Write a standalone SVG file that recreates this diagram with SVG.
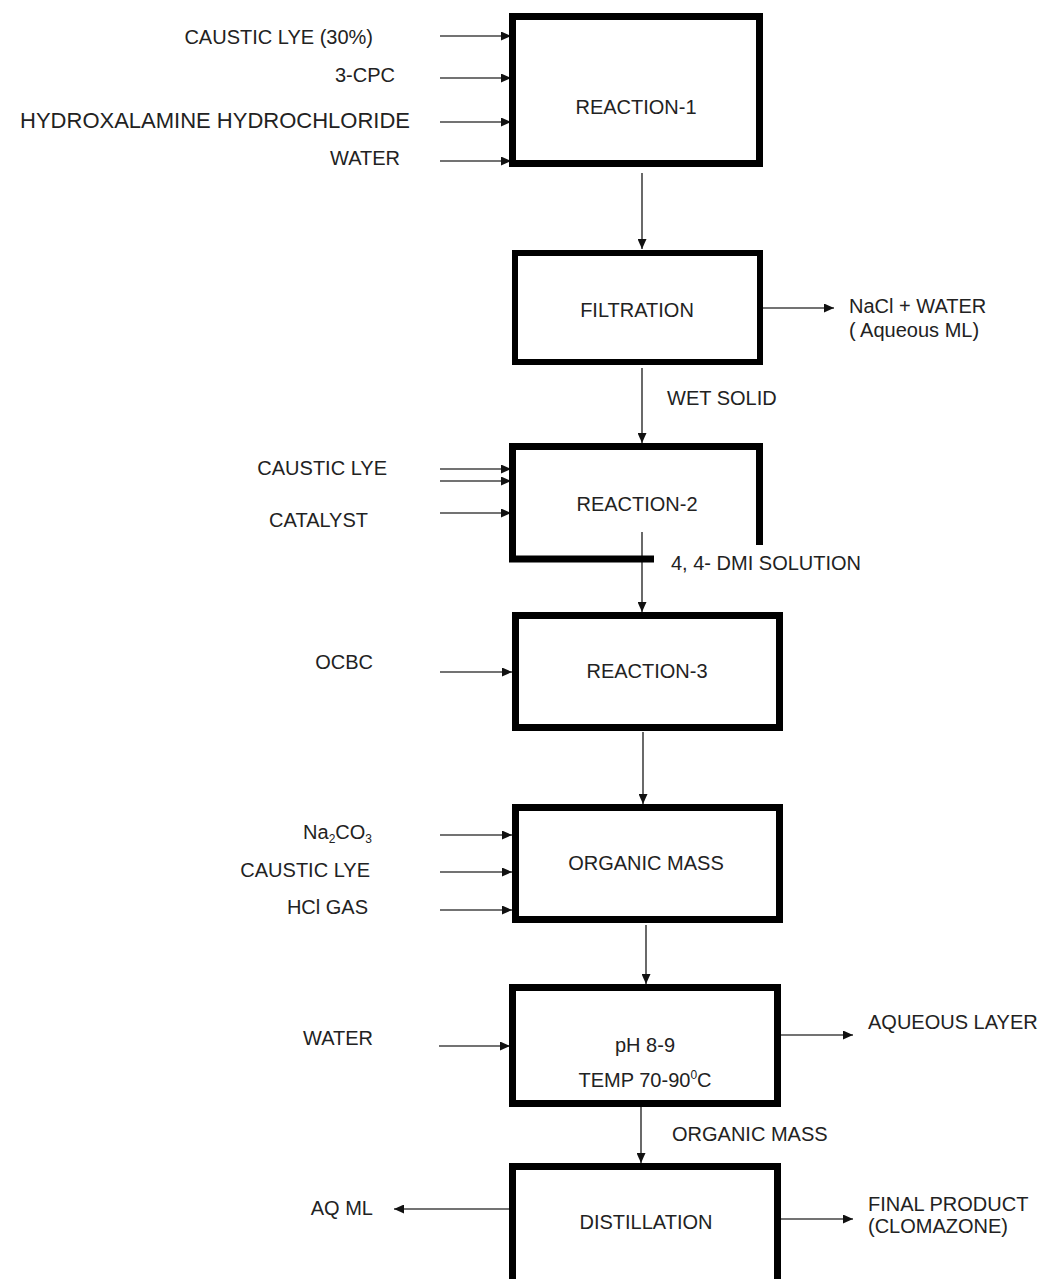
<svg xmlns="http://www.w3.org/2000/svg" width="1046" height="1279" viewBox="0 0 1046 1279">
<style>
text{font-family:"Liberation Sans",Arial,sans-serif;font-size:20px;fill:#222}
.box{fill:none;stroke:#000;stroke-width:7;stroke-linejoin:miter}
.c{stroke:#444;stroke-width:1.6;fill:none;marker-end:url(#ah)}
.m{text-anchor:middle}
.e{text-anchor:end}
</style>
<defs>
<marker id="ah" markerUnits="userSpaceOnUse" markerWidth="11" markerHeight="9" refX="10" refY="4.5" orient="auto">
<path d="M0,0 L10,4.5 L0,9 z" fill="#111"/>
</marker>
</defs>
<rect width="1046" height="1279" fill="#fff"/>

<g id="connectors">
<line class="c" x1="440" y1="36" x2="511" y2="36"/>
<line class="c" x1="440" y1="78" x2="511" y2="78"/>
<line class="c" x1="440" y1="122" x2="511" y2="122"/>
<line class="c" x1="440" y1="161" x2="511" y2="161"/>
<line class="c" x1="642" y1="173" x2="642" y2="249"/>
<line class="c" x1="763" y1="308" x2="834" y2="308"/>
<line class="c" x1="642" y1="368" x2="642" y2="443"/>
<line class="c" x1="440" y1="469" x2="511" y2="469"/>
<line class="c" x1="440" y1="481" x2="511" y2="481"/>
<line class="c" x1="440" y1="513" x2="511" y2="513"/>
<line class="c" x1="642" y1="532" x2="642" y2="612"/>
<line class="c" x1="440" y1="672" x2="512" y2="672"/>
<line class="c" x1="643" y1="732" x2="643" y2="804"/>
<line class="c" x1="440" y1="835" x2="512" y2="835"/>
<line class="c" x1="440" y1="872" x2="512" y2="872"/>
<line class="c" x1="440" y1="910" x2="512" y2="910"/>
<line class="c" x1="646" y1="925" x2="646" y2="984"/>
<line class="c" x1="439" y1="1046" x2="510" y2="1046"/>
<line class="c" x1="781" y1="1035" x2="853" y2="1035"/>
<line class="c" x1="641" y1="1107" x2="641" y2="1163"/>
<line class="c" x1="509" y1="1209" x2="394" y2="1209"/>
<line class="c" x1="781" y1="1219" x2="853" y2="1219"/>
</g>

<g id="reaction1">
<rect class="box" x="512.5" y="16.5" width="247" height="147"/>
<text class="m" x="636" y="114">REACTION-1</text>
</g>
<g id="inputs1">
<text class="e" x="373" y="44">CAUSTIC LYE (30%)</text>
<text class="e" x="395" y="82">3-CPC</text>
<text class="e" x="410" y="128" style="font-size:22px">HYDROXALAMINE HYDROCHLORIDE</text>
<text class="e" x="400" y="165">WATER</text>
</g>

<g id="filtration">
<rect class="box" x="515" y="253" width="245" height="109" style="stroke-width:6"/>
<text class="m" x="637" y="317">FILTRATION</text>
</g>
<g id="nacl-water">
<text x="849" y="313">NaCl + WATER</text>
<text x="849" y="337">( Aqueous ML)</text>
</g>
<g id="wet-solid"><text x="667" y="405">WET SOLID</text></g>

<g id="reaction2">
<path class="box" d="M654,559 H512.5 V446.5 H759.5 V545"/>
<text class="m" x="637" y="511">REACTION-2</text>
</g>
<g id="inputs2">
<text class="e" x="387" y="475">CAUSTIC LYE</text>
<text class="e" x="368" y="527">CATALYST</text>
</g>
<g id="dmi-solution"><text x="671" y="570">4, 4- DMI SOLUTION</text></g>

<g id="reaction3">
<rect class="box" x="515.5" y="615.5" width="264" height="112"/>
<text class="m" x="647" y="678">REACTION-3</text>
</g>
<g id="ocbc"><text class="e" x="373" y="669">OCBC</text></g>

<g id="organic-mass">
<rect class="box" x="515.5" y="807.5" width="264" height="112"/>
<text class="m" x="646" y="870">ORGANIC MASS</text>
</g>
<g id="inputs4">
<text class="e" x="372" y="839">Na<tspan font-size="12" dy="4">2</tspan><tspan dy="-4">CO</tspan><tspan font-size="12" dy="4">3</tspan></text>
<text class="e" x="370" y="877">CAUSTIC LYE</text>
<text class="e" x="368" y="914">HCl GAS</text>
</g>

<g id="ph-temp">
<rect class="box" x="512.5" y="987.5" width="265" height="116"/>
<text class="m" x="645" y="1052">pH 8-9</text>
<text class="m" x="645" y="1087">TEMP 70-90<tspan font-size="12" dy="-8">0</tspan><tspan dy="8">C</tspan></text>
</g>
<g id="water5"><text class="e" x="373" y="1045">WATER</text></g>
<g id="aqueous-layer"><text x="868" y="1029">AQUEOUS LAYER</text></g>
<g id="organic-mass-label"><text x="672" y="1141">ORGANIC MASS</text></g>

<g id="distillation">
<rect class="box" x="512.5" y="1166.5" width="265" height="150"/>
<text class="m" x="646" y="1229">DISTILLATION</text>
</g>
<g id="aq-ml"><text class="e" x="373" y="1215">AQ ML</text></g>
<g id="final-product">
<text x="868" y="1211">FINAL PRODUCT</text>
<text x="868" y="1233">(CLOMAZONE)</text>
</g>
</svg>
